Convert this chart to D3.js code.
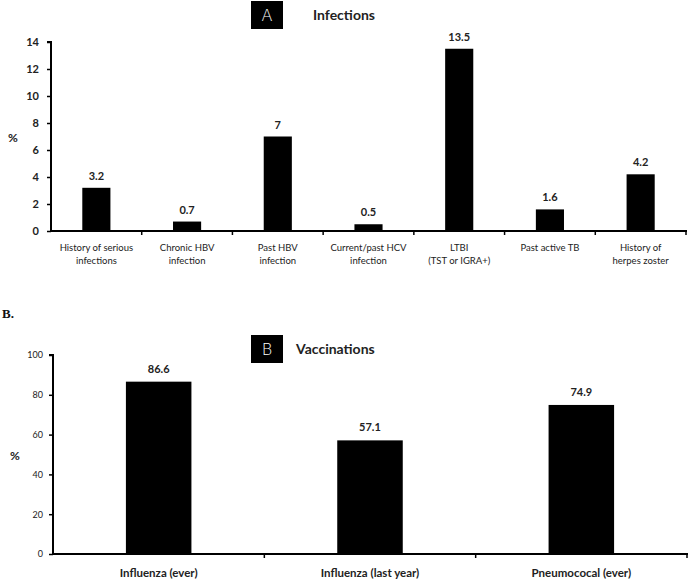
<!DOCTYPE html>
<html>
<head>
<meta charset="utf-8">
<script src="https://cdn.jsdelivr.net/npm/d3@7"></script>
<style>
  body { margin: 0; background: #fff; }
  svg { display: block; }
</style>
</head>
<body>
<div id="chart"></div>
<script>
// panel A: infections
const infCats = [
  ["History of serious", "infections"],
  ["Chronic HBV", "infection"],
  ["Past HBV", "infection"],
  ["Current/past HCV", "infection"],
  ["LTBI", "(TST or IGRA+)"],
  ["Past active TB"],
  ["History of", "herpes zoster"]
];
const infValues = [3.2, 0.7, 7, 0.5, 13.5, 1.6, 4.2];
const infTicks = [0, 2, 4, 6, 8, 10, 12, 14];

// panel B: vaccinations
const vacCats = ["Influenza (ever)", "Influenza (last year)", "Pneumococal (ever)"];
const vacValues = [86.6, 57.1, 74.9];
const vacTicks = [0, 20, 40, 60, 80, 100];

const W = 692, H = 580;
const font = "Lato, 'Open Sans', sans-serif";

const svg = d3.select("#chart").append("svg")
  .attr("width", W)
  .attr("height", H);

function panel(opt) {
  const g = svg.append("g");
  const x = d3.scaleBand()
    .domain(d3.range(opt.values.length))
    .range([opt.left, opt.right])
    .paddingInner(0.69)
    .paddingOuter(0.345);
  // boundaries for ticks: use an unpadded band
  const xb = d3.scaleBand()
    .domain(d3.range(opt.values.length))
    .range([opt.left, opt.right]);
  const y = d3.scaleLinear()
    .domain([0, opt.max])
    .range([opt.bottom, opt.top]);

  // bars
  g.selectAll("rect.bar").data(opt.values).enter().append("rect")
    .attr("class", "bar")
    .attr("x", (d, i) => x(i))
    .attr("width", x.bandwidth())
    .attr("y", d => y(d))
    .attr("height", d => y(0) - y(d))
    .attr("fill", "#000");

  // value labels
  g.selectAll("text.val").data(opt.values).enter().append("text")
    .attr("class", "val")
    .attr("x", (d, i) => x(i) + x.bandwidth() / 2)
    .attr("y", d => y(d) - opt.valGap)
    .attr("text-anchor", "middle")
    .attr("font-family", font)
    .attr("font-weight", "bold")
    .attr("font-size", opt.valSize)
    .attr("fill", "#222")
    .text(d => String(d));

  // y axis
  const yAxis = d3.axisLeft(y)
    .tickValues(opt.ticks)
    .tickSize(4)
    .tickPadding(opt.tickPad)
    .tickFormat(d3.format("d"));
  const ya = g.append("g")
    .attr("transform", `translate(${opt.left},0)`)
    .call(yAxis);
  ya.select(".domain").attr("stroke-width", 2).attr("d", `M-4,${opt.top}H0V${opt.bottom}`);
  ya.selectAll(".tick line").attr("stroke-width", 1.5);
  ya.selectAll(".tick text")
    .attr("font-family", font)
    .attr("font-size", opt.tickSize)
    .attr("font-weight", opt.tickWeight)
    .attr("fill", "#222");

  // x axis line
  g.append("line")
    .attr("x1", opt.left - 1).attr("x2", opt.right + 1)
    .attr("y1", y(0)).attr("y2", y(0))
    .attr("stroke", "#000").attr("stroke-width", 2);
  const bounds = d3.range(1, opt.values.length).map(i => xb(i)).concat([opt.right]);
  g.selectAll("line.xt").data(bounds).enter().append("line")
    .attr("class", "xt")
    .attr("x1", d => d).attr("x2", d => d)
    .attr("y1", y(0)).attr("y2", y(0) + 4)
    .attr("stroke", "#000").attr("stroke-width", 1.5);

  // category labels
  const lab = g.selectAll("text.cat").data(opt.cats).enter().append("text")
    .attr("class", "cat")
    .attr("x", (d, i) => xb(i) + xb.bandwidth() / 2)
    .attr("y", opt.catY)
    .attr("text-anchor", "middle")
    .attr("font-family", font)
    .attr("font-size", opt.catSize)
    .attr("font-weight", opt.catWeight)
    .attr("fill", "#222");
  lab.each(function(d) {
    const lines = Array.isArray(d) ? d : [d];
    const t = d3.select(this);
    lines.forEach((l, k) => {
      t.append("tspan")
        .attr("x", t.attr("x"))
        .attr("dy", k === 0 ? 0 : opt.catLine)
        .text(l);
    });
  });

  // % label
  g.append("text")
    .attr("x", opt.pctX)
    .attr("y", (opt.top + opt.bottom) / 2 + 5)
    .attr("font-family", font)
    .attr("font-weight", "bold")
    .attr("font-size", 12)
    .attr("fill", "#222")
    .text("%");

  // title box + title
  g.append("rect")
    .attr("x", 251).attr("y", opt.boxY)
    .attr("width", 32).attr("height", 28)
    .attr("fill", "#000");
  g.append("text")
    .attr("x", 267).attr("y", opt.boxY + 20)
    .attr("text-anchor", "middle")
    .attr("font-family", "'DejaVu Sans', sans-serif")
    .attr("font-weight", 300)
    .attr("font-size", 16)
    .attr("fill", "#fff")
    .text(opt.letter);
  g.append("text")
    .attr("x", opt.titleX).attr("y", opt.boxY + 19)
    .attr("font-family", font)
    .attr("font-weight", "bold")
    .attr("font-size", 14)
    .attr("fill", "#222")
    .text(opt.title);
}

panel({
  values: infValues, cats: infCats, ticks: infTicks, max: 14,
  left: 51, right: 686, top: 42, bottom: 231,
  valGap: 8, valSize: 11, tickPad: 8, tickSize: 11, tickWeight: "bold",
  catY: 251, catSize: 9.5, catWeight: "normal", catLine: 13,
  pctX: 8, boxY: 1, letter: "A", title: "Infections", titleX: 313
});

panel({
  values: vacValues, cats: vacCats, ticks: vacTicks, max: 100,
  left: 53, right: 687, top: 355, bottom: 554,
  valGap: 9, valSize: 11, tickPad: 6, tickSize: 9, tickWeight: "normal",
  catY: 577, catSize: 11.5, catWeight: "bold", catLine: 13,
  pctX: 10, boxY: 335, letter: "B", title: "Vaccinations", titleX: 296
});

// "B." heading
svg.append("text")
  .attr("x", 2).attr("y", 318)
  .attr("font-family", "'Liberation Serif', 'DejaVu Serif', serif")
  .attr("font-weight", "bold")
  .attr("font-size", 13)
  .attr("fill", "#111")
  .text("B.");
</script>
</body>
</html>
